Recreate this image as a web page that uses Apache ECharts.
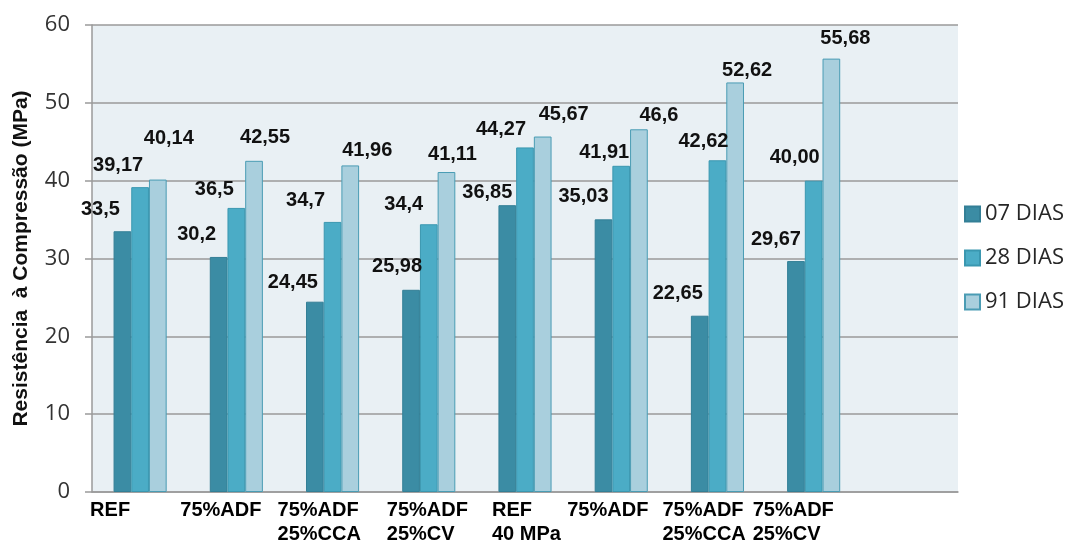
<!DOCTYPE html>
<html>
<head>
<meta charset="utf-8">
<script src="https://cdn.jsdelivr.net/npm/echarts@6/dist/echarts.min.js"></script>
<style>
  html, body { margin: 0; padding: 0; background: #ffffff; }
  #chart { width: 1067px; height: 544px; }
</style>
</head>
<body>
<div id="chart"></div>
<script>
// ---- data ----
const categories = ['REF', '75%ADF', '75%ADF\n25%CCA', '75%ADF\n25%CV', 'REF\n40 MPa', '75%ADF', '75%ADF\n25%CCA', '75%ADF\n25%CV', ''];
const seriesNames = ['07 DIAS', '28 DIAS', '91 DIAS'];
const dias07 = [33.5, 30.2, 24.45, 25.98, 36.85, 35.03, 22.65, 29.67];
const dias28 = [39.17, 36.5, 34.7, 34.4, 44.27, 41.91, 42.62, 40.00];
const dias91 = [40.14, 42.55, 41.96, 41.11, 45.67, 46.6, 52.62, 55.68];
const labels07 = ['33,5', '30,2', '24,45', '25,98', '36,85', '35,03', '22,65', '29,67'];
const labels28 = ['39,17', '36,5', '34,7', '34,4', '44,27', '41,91', '42,62', '40,00'];
const labels91 = ['40,14', '42,55', '41,96', '41,11', '45,67', '46,6', '52,62', '55,68'];
const yTicks = [0, 10, 20, 30, 40, 50, 60];

// ---- label placement (style, kept apart from the data) ----
const off07 = [[-22,-22],[-22,-22],[-22,-19],[-14,-23],[-20,-13],[-20,-23],[-22,-22],[-20,-22]];
const off28 = [[-22,-22],[-22,-18],[-27,-21],[-25,-20],[-24,-18],[-17,-13],[-14,-19],[-19,-23]];
const off91 = [[11,-41],[11,-23],[17,-15],[6,-18],[21,-22],[20,-14],[12,-12],[14,-20]];
const catLabelHalfWidth = [50, 56, 55, 42, 33, 54, 55, 61, 40];

const colors = ['#3b8ca4', '#4bacc6', '#a9cfdd'];
const borders = ['#337f96', '#3a97b0', '#4a9cb4'];

const chart = echarts.init(document.getElementById('chart'), null, { renderer: 'canvas' });

const rich = {};
catLabelHalfWidth.forEach((w, i) => {
  rich['l' + i] = {
    width: 2 * w, align: 'left', fontSize: 20, fontWeight: 'bold',
    fontFamily: 'Liberation Sans, Arial, sans-serif', color: '#000', lineHeight: 24
  };
});

function makeSeries(idx, values, texts, offs) {
  return {
    name: seriesNames[idx],
    type: 'bar',
    barWidth: 17.7,
    barGap: '0%',
    itemStyle: { color: colors[idx], borderColor: borders[idx], borderWidth: 1 },
    emphasis: { disabled: true },
    data: values.map((v, i) => ({
      value: v,
      label: { offset: offs[i] }
    })),
    label: {
      show: true,
      position: 'top',
      distance: 0,
      align: 'center',
      verticalAlign: 'middle',
      fontSize: 20,
      fontWeight: 'bold',
      fontFamily: 'Liberation Sans, Arial, sans-serif',
      color: '#111',
      formatter: p => texts[p.dataIndex]
    }
  };
}

const option = {
  backgroundColor: '#ffffff',
  animation: false,
  grid: {
    left: 92, right: 109, top: 25, bottom: 49,
    show: true, backgroundColor: '#e9f0f4', borderWidth: 0
  },
  legend: {
    orient: 'vertical',
    left: 959, top: 198,
    itemWidth: 15, itemHeight: 15, itemGap: 22, itemTextGap: 6,
    icon: 'rect',
    textStyle: { fontSize: 22, lineHeight: 22, fontFamily: 'Open Sans, sans-serif', color: '#262626' },
    data: seriesNames
  },
  xAxis: {
    type: 'category',
    data: categories,
    axisLine: { show: true, lineStyle: { color: '#9a9a9a', width: 1.5 } },
    axisTick: { show: false },
    axisLabel: {
      interval: 0,
      margin: 6,
      align: 'center',
      formatter: (value, index) => value.split('\n').map(s => '{l' + index + '|' + s + '}').join('\n'),
      rich: rich
    }
  },
  yAxis: {
    type: 'value',
    min: yTicks[0], max: yTicks[yTicks.length - 1], interval: 10,
    name: 'Resistência  à Compressão (MPa)',
    nameLocation: 'middle',
    nameGap: 60,
    nameTextStyle: { fontSize: 21, fontWeight: 'bold', fontFamily: 'Liberation Sans, Arial, sans-serif', color: '#111' },
    axisLine: { show: true, lineStyle: { color: '#9a9a9a', width: 1.5 } },
    axisTick: { show: true, length: 7, lineStyle: { color: '#9a9a9a', width: 1.5 } },
    axisLabel: { margin: 22, fontSize: 22, fontFamily: 'Open Sans, sans-serif', color: '#333' },
    splitLine: { show: true, lineStyle: { color: '#9a9a9a', width: 1.5 } }
  },
  series: [
    makeSeries(0, dias07, labels07, off07),
    makeSeries(1, dias28, labels28, off28),
    makeSeries(2, dias91, labels91, off91)
  ]
};

chart.setOption(option);
</script>
</body>
</html>
